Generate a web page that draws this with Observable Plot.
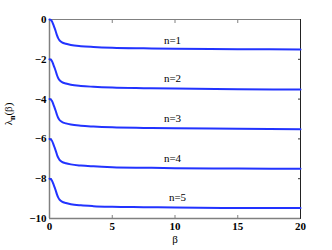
<!DOCTYPE html>
<html><head><meta charset="utf-8">
<script src="https://cdn.jsdelivr.net/npm/d3@7"></script>
<script src="https://cdn.jsdelivr.net/npm/@observablehq/plot@0.6"></script>
<style>
html,body{margin:0;padding:0;background:#fff;}
svg{font-family:"Liberation Serif","Times New Roman",serif;}
</style></head>
<body><div id="chart"></div>
<script>
const beta = [0, 0.1, 0.2, 0.3, 0.4, 0.5, 0.6, 0.7, 0.8, 1.0, 1.3, 1.7, 2.5, 3.5, 5, 7.5, 10, 15, 20];
const lambda1 = [0, -0.02, -0.1, -0.25, -0.42, -0.6, -0.8, -0.95, -1.05, -1.15, -1.22, -1.28, -1.34, -1.38, -1.42, -1.45, -1.47, -1.49, -1.51];
const lambda2 = [-2, -2.02, -2.1, -2.25, -2.42, -2.6, -2.8, -2.95, -3.05, -3.15, -3.22, -3.28, -3.34, -3.38, -3.42, -3.45, -3.47, -3.5, -3.52];
const lambda3 = [-4, -4.02, -4.1, -4.25, -4.42, -4.6, -4.8, -4.95, -5.05, -5.15, -5.22, -5.28, -5.34, -5.38, -5.42, -5.45, -5.47, -5.49, -5.51];
const lambda4 = [-6, -6.02, -6.1, -6.25, -6.42, -6.6, -6.8, -6.95, -7.05, -7.15, -7.22, -7.28, -7.34, -7.38, -7.42, -7.45, -7.47, -7.49, -7.5];
const lambda5 = [-8, -8.02, -8.1, -8.25, -8.42, -8.6, -8.8, -8.95, -9.05, -9.15, -9.22, -9.28, -9.34, -9.38, -9.41, -9.43, -9.45, -9.47, -9.47];
const seriesNames = ["n=1", "n=2", "n=3", "n=4", "n=5"];
const labelX = [9.8, 9.8, 9.8, 9.8, 10.2];
const labelY = [-1.05, -2.95, -4.95, -7.0, -8.95];
const xTicks = [0, 5, 10, 15, 20];
const yTicks = [0, -2, -4, -6, -8, -10];

const all = [lambda1, lambda2, lambda3, lambda4, lambda5];
const rows = [];
all.forEach((arr, i) => arr.forEach((v, j) => rows.push({b: beta[j], v, s: seriesNames[i]})));
const labels = seriesNames.map((s, i) => ({s, x: labelX[i], y: labelY[i]}));
const fmt = d => d < 0 ? "\u2212" + Math.abs(d) : String(d);
const blank = () => "";

const plot = Plot.plot({
  width: 332, height: 250,
  marginLeft: 49, marginRight: 32, marginTop: 19, marginBottom: 32,
  x: {domain: [0, 20]},
  y: {domain: [-10, 0]},
  style: {fontFamily: "Liberation Serif, Times New Roman, serif", background: "#fff"},
  marks: [
    Plot.axisX({ticks: xTicks, anchor: "bottom", tickSize: 0, tickPadding: 4, tickFormat: fmt, label: null, fontSize: 11, fill: "#000"}),
    Plot.axisY({ticks: yTicks, anchor: "left", tickSize: 0, tickPadding: 3, tickFormat: fmt, label: null, fontSize: 11, fill: "#000"}),
    Plot.axisX({ticks: xTicks, anchor: "bottom", tickSize: -3, tickFormat: blank, label: null, stroke: "#808080"}),
    Plot.axisX({ticks: xTicks, anchor: "top", tickSize: -3, tickFormat: blank, label: null, stroke: "#808080"}),
    Plot.axisY({ticks: yTicks, anchor: "left", tickSize: -3, tickFormat: blank, label: null, stroke: "#808080"}),
    Plot.axisY({ticks: yTicks, anchor: "right", tickSize: -3, tickFormat: blank, label: null, stroke: "#333"}),
    Plot.ruleX([0], {stroke: "#808080", strokeWidth: 1.5}),
    Plot.ruleY([-10], {stroke: "#808080", strokeWidth: 1.5}),
    Plot.ruleY([0], {stroke: "#808080", strokeWidth: 1}),
    Plot.ruleX([20], {stroke: "#222", strokeWidth: 1}),
    Plot.line(rows, {x: "b", y: "v", z: "s", stroke: "#2233ff", strokeWidth: 2, curve: "monotone-x"}),
    Plot.text(labels, {x: "x", y: "y", text: "s", fontSize: 11, fill: "#000"}),
    Plot.text(["\u03b2"], {frameAnchor: "bottom", dy: 24, fontSize: 11, fill: "#000"})
  ]
});
document.getElementById("chart").appendChild(plot);

const svg = d3.select(plot);
svg.selectAll('g[aria-label="x-axis tick label"], g[aria-label="y-axis tick label"]')
  .attr("font-weight", "bold").style("font-weight", "bold")
  .attr("font-family", "Liberation Serif, Times New Roman, serif");
const t = svg.append("text")
  .attr("transform", "translate(12,114) rotate(-90)")
  .attr("text-anchor", "middle")
  .attr("font-size", 11)
  .attr("font-family", "Liberation Serif, Times New Roman, serif")
  .attr("fill", "#000");
t.append("tspan").text("\u03bb");
t.append("tspan").attr("font-size", 8).attr("dy", 3).attr("font-weight", "bold").text("n");
t.append("tspan").attr("dy", -3).text("(\u03b2)");
</script>
</body></html>
